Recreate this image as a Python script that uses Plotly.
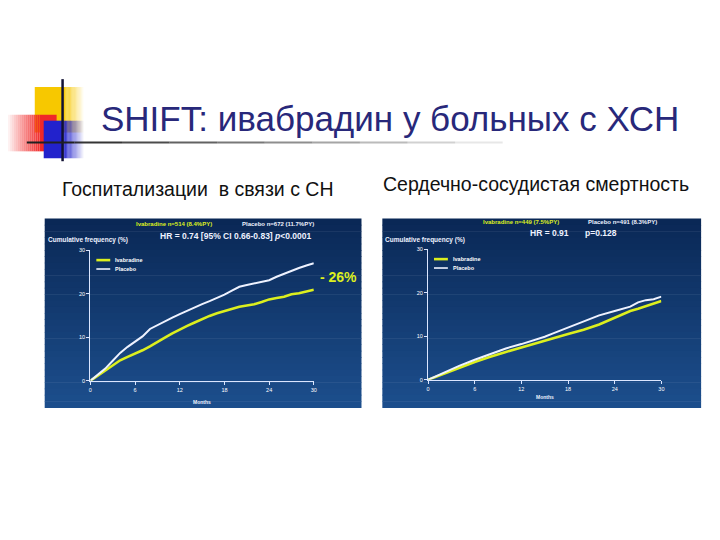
import plotly.graph_objects as go

W, H = 720, 540

# ---------------- data ----------------
months_l = [0, 1, 2, 3, 4, 5, 6, 7, 8, 9, 10, 11, 12, 13, 14, 15, 16, 17, 18, 19, 20, 21, 22, 23, 24, 25, 26, 27, 28, 29, 30]
hosp_placebo = [0, 1.4, 2.8, 4.6, 6.4, 7.8, 9.0, 10.2, 11.9, 12.8, 13.7, 14.5, 15.3, 16.1, 16.9, 17.6, 18.3, 19.0, 19.8, 20.7, 21.6, 22.0, 22.4, 22.7, 23.1, 23.9, 24.6, 25.3, 25.9, 26.5, 27.0]
hosp_ivabradine = [0, 1.2, 2.4, 3.6, 4.7, 5.5, 6.2, 7.0, 7.9, 9.0, 9.9, 10.9, 11.8, 12.6, 13.4, 14.2, 14.9, 15.5, 16.0, 16.5, 17.0, 17.3, 17.6, 18.1, 18.7, 19.0, 19.3, 19.9, 20.1, 20.5, 20.9]

months_r = [0, 2, 3, 4, 6, 8, 9, 10, 12, 14, 15, 16, 18, 20, 22, 24, 25, 26, 27, 28, 29, 30]
cv_placebo = [0, 1.6, 2.4, 3.2, 4.6, 5.9, 6.6, 7.2, 8.2, 9.3, 9.9, 10.6, 12.0, 13.5, 14.8, 15.8, 16.3, 16.8, 17.8, 18.3, 18.5, 19.1]
cv_ivabradine = [0, 1.4, 2.1, 2.8, 4.1, 5.3, 5.9, 6.4, 7.4, 8.5, 9.0, 9.5, 10.5, 11.5, 12.7, 14.3, 15.0, 15.8, 16.3, 16.9, 17.5, 18.1]

x_ticks = [0, 6, 12, 18, 24, 30]
y_ticks = [0, 10, 20, 30]

series_names = ["Ivabradine", "Placebo"]

title_text = "SHIFT: ивабрадин у больных с ХСН"
sub_left = "Госпитализации  в связи с СН"
sub_right = "Сердечно-сосудистая смертность"

YELLOW = "#dcef1e"
WHITE = "#eef2ff"


def px(x):
    return x / W


def py(y):
    return 1 - y / H


def lerp(c1, c2, t):
    return "#%02x%02x%02x" % tuple(int(round(a + (b - a) * t)) for a, b in zip(c1, c2))


shapes = []
annotations = []

# ---- panel backgrounds (vertical gradient) ----
def panel(x0, y0, x1, y1):
    n = 30
    top, bot = (10, 40, 86), (28, 78, 140)
    for i in range(n):
        ya = y0 + (y1 - y0) * i / n
        yb = y0 + (y1 - y0) * (i + 1) / n + 0.6
        shapes.append(dict(type="rect", xref="paper", yref="paper", x0=px(x0), x1=px(x1),
                           y0=py(yb), y1=py(ya), fillcolor=lerp(top, bot, i / (n - 1)),
                           line=dict(width=0), layer="below"))

panel(43, 218, 362, 409)
panel(383, 218, 704, 409)

# ---- decorative squares ----
def grad_rect(x0, y0, x1, y1, color, solid_frac, direction):
    n = 16
    solid_w = (x1 - x0) * solid_frac
    if direction == "right":
        shapes.append(dict(type="rect", xref="paper", yref="paper", x0=px(x0), x1=px(x0 + solid_w),
                           y0=py(y1), y1=py(y0), fillcolor=color, line=dict(width=0), layer="below"))
        fs, fe = x0 + solid_w, x1
    else:
        shapes.append(dict(type="rect", xref="paper", yref="paper", x0=px(x1 - solid_w), x1=px(x1),
                           y0=py(y1), y1=py(y0), fillcolor=color, line=dict(width=0), layer="below"))
        fs, fe = x1 - solid_w, x0
    for i in range(n):
        a = fs + (fe - fs) * i / n
        b = fs + (fe - fs) * (i + 1) / n
        shapes.append(dict(type="rect", xref="paper", yref="paper", x0=px(min(a, b)), x1=px(max(a, b)),
                           y0=py(y1), y1=py(y0), fillcolor=color, opacity=1 - (i + 1) / (n + 1),
                           line=dict(width=0), layer="below"))

grad_rect(33, 85, 82, 131, "#f7c800", 0.6, "right")
grad_rect(6, 113, 55, 150, "#f02828", 0.35, "left")
grad_rect(42, 119, 82, 157, "#2222cc", 0.5, "right")

# lines
shapes.append(dict(type="line", xref="paper", yref="paper", x0=px(61), x1=px(61), y0=py(77), y1=py(160),
                   line=dict(color="#111133", width=2.5)))
segs = 12
for i in range(segs):
    a = 25 + (600 - 25) * i / segs
    b = 25 + (600 - 25) * (i + 1) / segs
    shapes.append(dict(type="line", xref="paper", yref="paper", x0=px(a), x1=px(b), y0=py(141), y1=py(141),
                       line=dict(color="#202020", width=2), opacity=max(0.0, 1 - i / (segs - 2))))

# ---- titles ----
NARROW = "Liberation Sans Narrow, Arial Narrow, Liberation Sans"
annotations.append(dict(text=title_text, xref="paper", yref="paper", x=px(98), y=py(117), xanchor="left",
                        yanchor="middle", showarrow=False,
                        font=dict(family=NARROW, size=35, color="#28287a")))
annotations.append(dict(text=sub_left, xref="paper", yref="paper", x=px(58), y=py(188), xanchor="left",
                        yanchor="middle", showarrow=False,
                        font=dict(family=NARROW, size=19.5, color="#111111")))
annotations.append(dict(text=sub_right, xref="paper", yref="paper", x=px(382), y=py(183), xanchor="left",
                        yanchor="middle", showarrow=False,
                        font=dict(family=NARROW, size=19.5, color="#111111")))

F = "Liberation Sans, Arial, sans-serif"

def note(text, x, y, size, color, anchor="left", bold=True):
    annotations.append(dict(text=("<b>%s</b>" % text) if bold else text, xref="paper", yref="paper",
                            x=px(x), y=py(y), xanchor=anchor, yanchor="middle", showarrow=False,
                            font=dict(family=F, size=size, color=color)))

# left panel texts
note("Ivabradine n=514 (8.4%PY)", 133, 223, 6, YELLOW)
note("Placebo n=672 (11.7%PY)", 240, 223, 6, WHITE)
note("HR = 0.74 [95% CI 0.66-0.83] <i>p</i>&lt;0.0001", 157, 236, 8.5, WHITE)
note("Cumulative frequency (%)", 44, 240, 6.5, WHITE)
note("Months", 201, 403, 5, WHITE, anchor="center")
note("- 26%", 318, 277, 14, YELLOW)

# right panel texts
note("Ivabradine n=449 (7.5%PY)", 482, 221, 6, YELLOW)
note("Placebo n=491 (8.3%PY)", 588, 221, 6, WHITE)
note("HR = 0.91", 530, 233, 8.5, WHITE)
note("p=0.128", 585, 233, 8.5, WHITE)
note("Cumulative frequency (%)", 384, 240, 6.5, WHITE)
note("Months", 547, 398, 5, WHITE, anchor="center")

# ---- legends (drawn as key) ----
def legend_key(x0, y0):
    for i, (name, col, w) in enumerate(zip(series_names, [YELLOW, WHITE], [2.6, 1.6])):
        yy = y0 + i * 9
        shapes.append(dict(type="line", xref="paper", yref="paper", x0=px(x0), x1=px(x0 + 14),
                           y0=py(yy), y1=py(yy), line=dict(color=col, width=w)))
        note(name, x0 + 17, yy, 5.5, "white")

legend_key(95, 260)
legend_key(435, 259)

fig = go.Figure()
fig.add_trace(go.Scatter(x=months_l, y=hosp_ivabradine, mode="lines", name=series_names[0],
                         line=dict(color=YELLOW, width=2.6), xaxis="x", yaxis="y"))
fig.add_trace(go.Scatter(x=months_l, y=hosp_placebo, mode="lines", name=series_names[1],
                         line=dict(color=WHITE, width=2), xaxis="x", yaxis="y"))
fig.add_trace(go.Scatter(x=months_r, y=cv_ivabradine, mode="lines", name=series_names[0],
                         line=dict(color=YELLOW, width=2.6), xaxis="x2", yaxis="y2"))
fig.add_trace(go.Scatter(x=months_r, y=cv_placebo, mode="lines", name=series_names[1],
                         line=dict(color=WHITE, width=2), xaxis="x2", yaxis="y2"))

ax_common = dict(showgrid=False, zeroline=False, showline=True, linecolor="#dbe6ff", linewidth=1.3,
                 ticks="outside", ticklen=3, tickcolor="#dbe6ff", tickwidth=1,
                 tickfont=dict(family=F, size=5.5, color="white"), fixedrange=True)

fig.update_layout(
    width=W, height=H, autosize=False, showlegend=False,
    margin=dict(l=0, r=0, t=0, b=0),
    paper_bgcolor="white", plot_bgcolor="rgba(0,0,0,0)",
    xaxis=dict(domain=[px(89), px(314)], range=[0, 30], tickvals=x_ticks, anchor="y", **ax_common),
    yaxis=dict(domain=[py(382), py(250)], range=[0, 30], tickvals=y_ticks, anchor="x", **ax_common),
    xaxis2=dict(domain=[px(429), px(664)], range=[0, 30], tickvals=x_ticks, anchor="y2", **ax_common),
    yaxis2=dict(domain=[py(381), py(249)], range=[0, 30], tickvals=y_ticks, anchor="x2", **ax_common),
    shapes=shapes, annotations=annotations,
)

fig.write_html("out.html", config={"displayModeBar": False},
               post_script="document.body.style.margin='0px';document.body.style.overflow='hidden';")
